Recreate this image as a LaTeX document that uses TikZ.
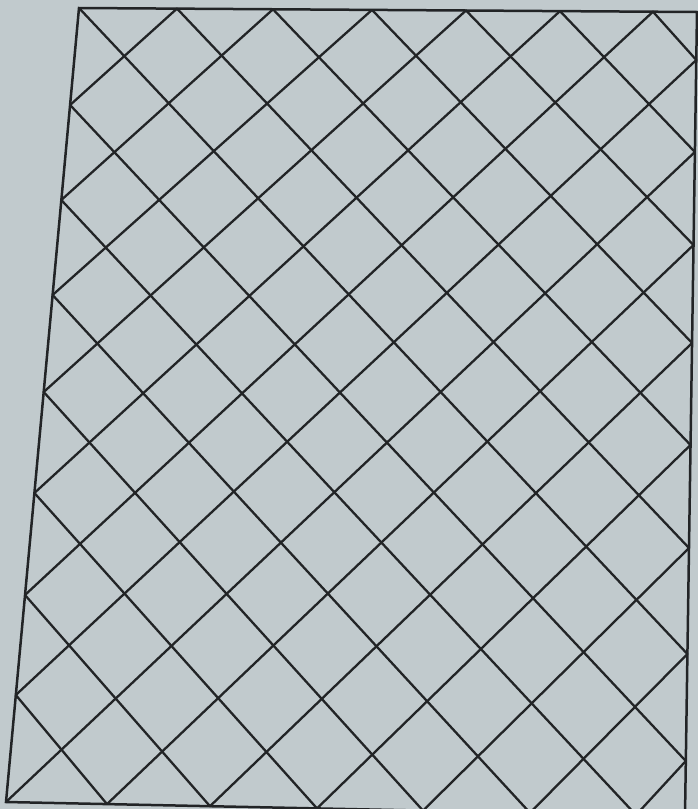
\documentclass[tikz,border=0pt]{standalone}
\usepackage{xcolor}
\definecolor{paper}{RGB}{193,202,205}
\definecolor{ink}{RGB}{34,36,38}
\begin{document}
\begin{tikzpicture}[x=1pt,y=-1pt,
  gridline/.style={draw=ink,line width=2.3pt,line cap=round,line join=round},
  frameline/.style={draw=ink,line width=2.5pt,line join=miter}]
\useasboundingbox (0,0) rectangle (698,809);
\fill[paper] (0,0) rectangle (698,809);
\clip (0,0) rectangle (698,809);
% top edge
\coordinate (T0) at (79,8);
\coordinate (T1) at (177,8.6);
\coordinate (T2) at (273,9.3);
\coordinate (T3) at (372,9.9);
\coordinate (T4) at (466,10.5);
\coordinate (T5) at (560,11.1);
\coordinate (T6) at (653,11.7);
\coordinate (TR) at (697,12);
% right edge
\coordinate (R1) at (696.3,60);
\coordinate (R2) at (694.9,152);
\coordinate (R3) at (693.5,245);
\coordinate (R4) at (692.1,343);
\coordinate (R5) at (690.5,445);
\coordinate (R6) at (689.0,548);
\coordinate (R7) at (687.4,654);
\coordinate (R8) at (685.8,761);
\coordinate (BR) at (685,816);
% left edge
\coordinate (L1) at (70.1,105);
\coordinate (L2) at (61.3,200);
\coordinate (L3) at (52.6,295);
\coordinate (L4) at (43.7,392);
\coordinate (L5) at (34.4,493);
\coordinate (L6) at (25.0,595);
\coordinate (L7) at (15.8,695);
\coordinate (L8) at (6,802);
% bottom edge
\coordinate (B1) at (107,804.1);
\coordinate (B2) at (210,806.2);
\coordinate (B3) at (317,808.4);
\coordinate (B4) at (423,810.6);
\coordinate (B5) at (530,812.8);
\coordinate (B6) at (636,815.0);
% down-right family
\draw[gridline] (T0) -- (R7);
\draw[gridline] (T1) -- (R6);
\draw[gridline] (T2) -- (R5);
\draw[gridline] (T3) -- (R4);
\draw[gridline] (T4) -- (R3);
\draw[gridline] (T5) -- (R2);
\draw[gridline] (T6) -- (R1);
\draw[gridline] (L1) -- (R8);
\draw[gridline] (L2) -- (B6);
\draw[gridline] (L3) -- (B5);
\draw[gridline] (L4) -- (B4);
\draw[gridline] (L5) -- (B3);
\draw[gridline] (L6) -- (B2);
\draw[gridline] (L7) -- (B1);
% down-left family
\draw[gridline] (T1) -- (L1);
\draw[gridline] (T2) -- (L2);
\draw[gridline] (T3) -- (L3);
\draw[gridline] (T4) -- (L4);
\draw[gridline] (T5) -- (L5);
\draw[gridline] (T6) -- (L6);
\draw[gridline] (R1) -- (L7);
\draw[gridline] (R2) -- (L8);
\draw[gridline] (R3) -- (B1);
\draw[gridline] (R4) -- (B2);
\draw[gridline] (R5) -- (B3);
\draw[gridline] (R6) -- (B4);
\draw[gridline] (R7) -- (B5);
\draw[gridline] (R8) -- (B6);
% outline
\draw[frameline] (T0) -- (TR) -- (BR) -- (L8) -- cycle;
\end{tikzpicture}
\end{document}
